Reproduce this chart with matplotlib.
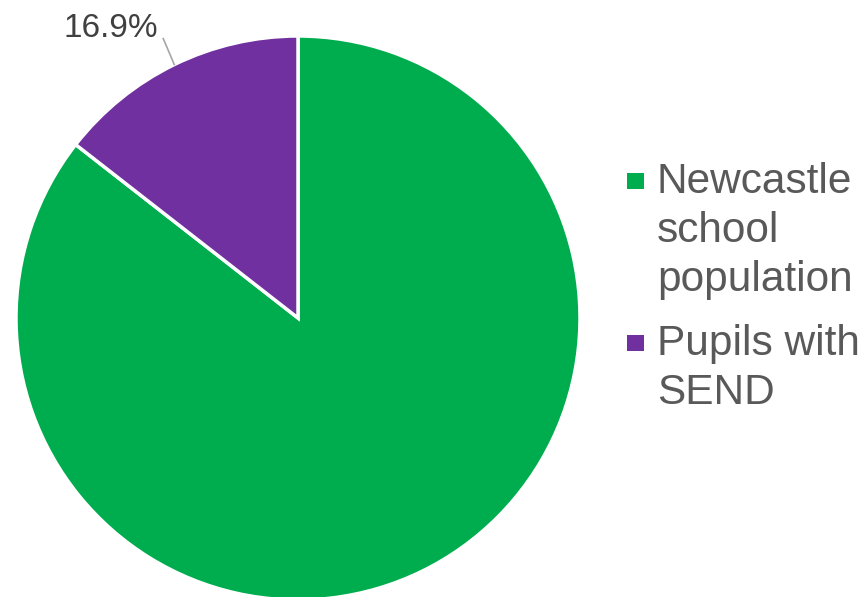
import numpy as np
import matplotlib.pyplot as plt
from matplotlib.patches import Rectangle

# dados
categorias = ['Newcastle\nschool\npopulation', 'Pupils with\nSEND']
valores = [100.0, 16.9]
rotulo_send = '16.9%'
cores = ['#00AD4E', '#7030A0']

plt.rcParams['font.family'] = ['Liberation Sans', 'DejaVu Sans']

W, H = 861, 597
fig = plt.figure(figsize=(W / 100, H / 100), dpi=100)


def px(x, y):
    # pixels (topo-esquerda) -> coordenadas da figura
    return x / W, 1 - y / H


ax = fig.add_axes([16 / W, -3 / H, 564 / W, 564 / H])

fatias, _ = ax.pie(valores, colors=cores, startangle=90, counterclock=False,
                   wedgeprops=dict(edgecolor='white', linewidth=2.5))
for f in fatias:
    f.set_clip_on(False)
ax.set_xlim(-1, 1)
ax.set_ylim(-1, 1)
ax.set_aspect('equal')
ax.axis('off')

# rotulo da fatia roxa com linha guia
meio = np.deg2rad((fatias[1].theta1 + fatias[1].theta2) / 2)
x0, y0 = np.cos(meio), np.sin(meio)
x1, y1 = x0 - 0.039, y0 + 0.092
ax.plot([x0, x1], [y0, y1], color='#A6A6A6', lw=1.2, clip_on=False)
fig.text(*px(158, 37), rotulo_send, ha='right', va='baseline',
         fontsize=24, color='#404040')

# legenda manual
passo = 49
topos = [193, 355]
for cat, cor, base in zip(categorias, cores, topos):
    fig.patches.append(Rectangle(px(627, base - 4), 17 / W, 16 / H,
                                 transform=fig.transFigure,
                                 facecolor=cor, edgecolor='none'))
    for i, linha in enumerate(cat.split('\n')):
        fig.text(*px(657, base + i * passo), linha, ha='left', va='baseline',
                 fontsize=30.5, color='#595959')

fig.savefig('out.png', dpi=100)
